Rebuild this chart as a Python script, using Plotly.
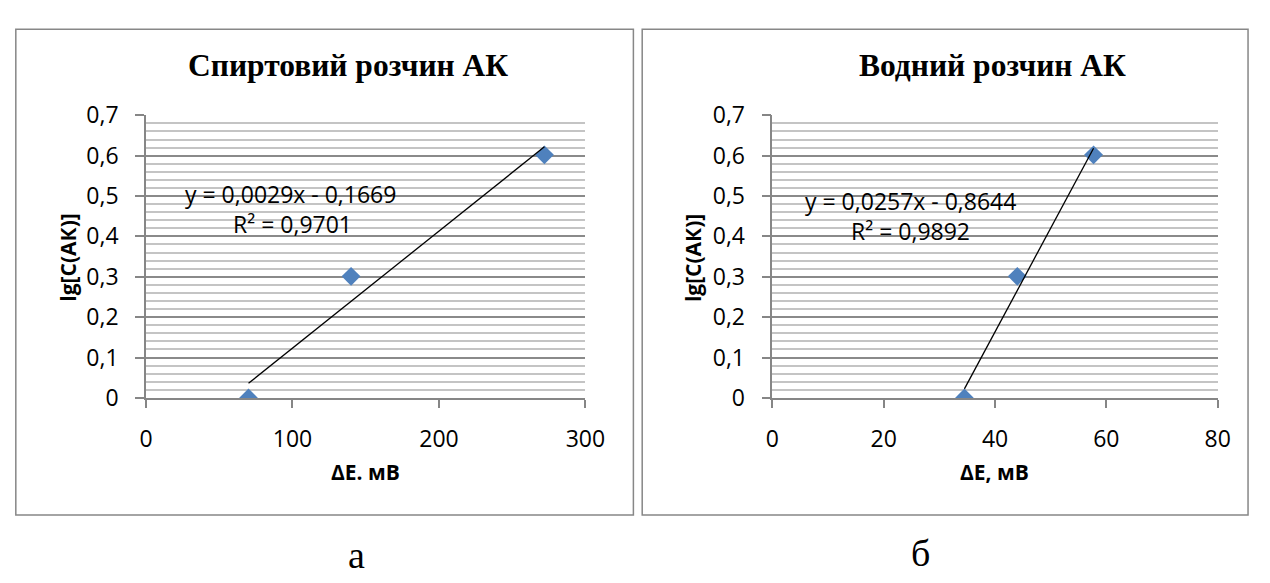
import plotly.graph_objects as go

# ---------------- data ----------------
# Panel a: alcoholic solution
dE_alc = [70, 140, 272]
lgC_alc = [0.0, 0.301, 0.602]
slope_alc, icpt_alc = 0.0029, -0.1669
eq_alc = "y = 0,0029x - 0,1669"
r2_alc = "R² = 0,9701"
title_alc = "Спиртовий розчин АК"
xlab_alc = "ΔE. мВ"

# Panel b: aqueous solution
dE_aq = [34.5, 44.0, 57.7]
lgC_aq = [0.0, 0.301, 0.602]
slope_aq, icpt_aq = 0.0257, -0.8644
eq_aq = "y = 0,0257x - 0,8644"
r2_aq = "R² = 0,9892"
title_aq = "Водний розчин АК"
xlab_aq = "ΔE, мВ"

ylab = "lg[C(АК)]"
y_ticks = [0, 0.1, 0.2, 0.3, 0.4, 0.5, 0.6, 0.7]
y_ticktext = ["0", "0,1", "0,2", "0,3", "0,4", "0,5", "0,6", "0,7"]
x_ticks_alc = [0, 100, 200, 300]
x_ticks_aq = [0, 20, 40, 60, 80]
panel_labels = ["а", "б"]

# ---------------- layout helpers ----------------
W, H = 1270, 583
def px(x):
    return x / W
def py(y):
    return 1 - y / H

SANS = "Open Sans"
SERIF = "Liberation Serif"
GRID_MAJ = "#8a8a8a"
GRID_MIN = "#c4c4c4"
AX = "#868686"
BLUE = "#4f81bd"

fig = go.Figure()

def add_panel(xs, ys, slope, icpt, xaxis, yaxis):
    fig.add_trace(go.Scatter(
        x=xs, y=ys, mode="markers", xaxis=xaxis, yaxis=yaxis,
        marker=dict(symbol="diamond", size=14.5, color=BLUE, line=dict(width=0)),
        showlegend=False, hoverinfo="x+y"))
    xl = [min(xs), max(xs)]
    fig.add_trace(go.Scatter(
        x=xl, y=[slope * v + icpt for v in xl], mode="lines",
        xaxis=xaxis, yaxis=yaxis, line=dict(color="black", width=1.3),
        showlegend=False, hoverinfo="skip"))

add_panel(dE_alc, lgC_alc, slope_alc, icpt_alc, "x", "y")
add_panel(dE_aq, lgC_aq, slope_aq, icpt_aq, "x2", "y2")

ydom = [py(403), py(104)]
common_y = dict(
    range=[0, 0.7], tickvals=y_ticks, ticktext=y_ticktext,
    showgrid=True, gridcolor=GRID_MAJ, gridwidth=1.5,
    minor=dict(dtick=0.02, showgrid=True, gridcolor=GRID_MIN, gridwidth=1.5, ticks=""),
    showline=True, linecolor=AX, linewidth=1.5,
    ticks="outside", ticklen=9, tickcolor=AX, tickwidth=1.5,
    tickfont=dict(family=SANS, size=23, color="black"),
    ticklabelstandoff=12, zeroline=False, fixedrange=True,
)
common_x = dict(
    showgrid=False, zeroline=False,
    showline=True, linecolor=AX, linewidth=1.5,
    ticks="outside", ticklen=8, tickcolor=AX, tickwidth=1.5,
    tickfont=dict(family=SANS, size=23, color="black"),
    ticklabelstandoff=12, fixedrange=True,
)

fig.update_layout(
    width=W, height=H, margin=dict(l=0, r=0, t=0, b=0),
    paper_bgcolor="white", plot_bgcolor="white",
    xaxis=dict(domain=[px(142), px(591)], range=[0, 300], tickvals=x_ticks_alc,
               ticktext=[str(v) for v in x_ticks_alc], anchor="y", **common_x),
    yaxis=dict(domain=ydom, anchor="x", **common_y),
    xaxis2=dict(domain=[px(782), px(1237)], range=[0, 80], tickvals=x_ticks_aq,
                ticktext=[str(v) for v in x_ticks_aq], anchor="y2", **common_x),
    yaxis2=dict(domain=ydom, anchor="x2", **common_y),
)

# frames of the two chart areas
for x0, x1 in [(9, 640), (649, 1268)]:
    fig.add_shape(type="rect", xref="paper", yref="paper",
                  x0=px(x0), x1=px(x1), y0=py(527), y1=py(13),
                  line=dict(color="#878787", width=1.5), layer="below")

ann = []
# titles
ann.append(dict(text=f"<b>{title_alc}</b>", x=px(348.5), y=py(51)))
ann.append(dict(text=f"<b>{title_aq}</b>", x=px(1007), y=py(51)))
for a in ann:
    a.update(xref="paper", yref="paper", showarrow=False, xanchor="center", yanchor="middle",
             font=dict(family=SERIF, size=31.5, color="black"))

# axis titles
ax_t = [
    dict(text=f"<b>{xlab_alc}</b>", x=px(366), y=py(481)),
    dict(text=f"<b>{xlab_aq}</b>", x=px(1009), y=py(481)),
    dict(text=f"<b>{ylab}</b>", x=px(62), y=py(255), textangle=-90),
    dict(text=f"<b>{ylab}</b>", x=px(701), y=py(255), textangle=-90),
]
for a in ax_t:
    a.update(xref="paper", yref="paper", showarrow=False, xanchor="center", yanchor="middle",
             font=dict(family=SANS, size=21, color="black"))
ann += ax_t

# equations (data coordinates)
eqs = [
    dict(text=eq_alc, x=98.7, y=0.505, xref="x", yref="y"),
    dict(text=r2_alc, x=100, y=0.430, xref="x", yref="y"),
    dict(text=eq_aq, x=24.9, y=0.487, xref="x2", yref="y2"),
    dict(text=r2_aq, x=24.8, y=0.414, xref="x2", yref="y2"),
]
for a in eqs:
    a.update(showarrow=False, xanchor="center", yanchor="middle",
             font=dict(family=SANS, size=23, color="black"))
ann += eqs

# panel labels
for lab, xc, yc in zip(panel_labels, [357, 933], [569, 567]):
    ann.append(dict(text=lab, x=px(xc), y=py(yc), xref="paper", yref="paper",
                    showarrow=False, xanchor="center", yanchor="middle",
                    font=dict(family=SERIF, size=38, color="black")))

fig.update_layout(annotations=ann, separators=", ")
fig.write_html("out.html")
